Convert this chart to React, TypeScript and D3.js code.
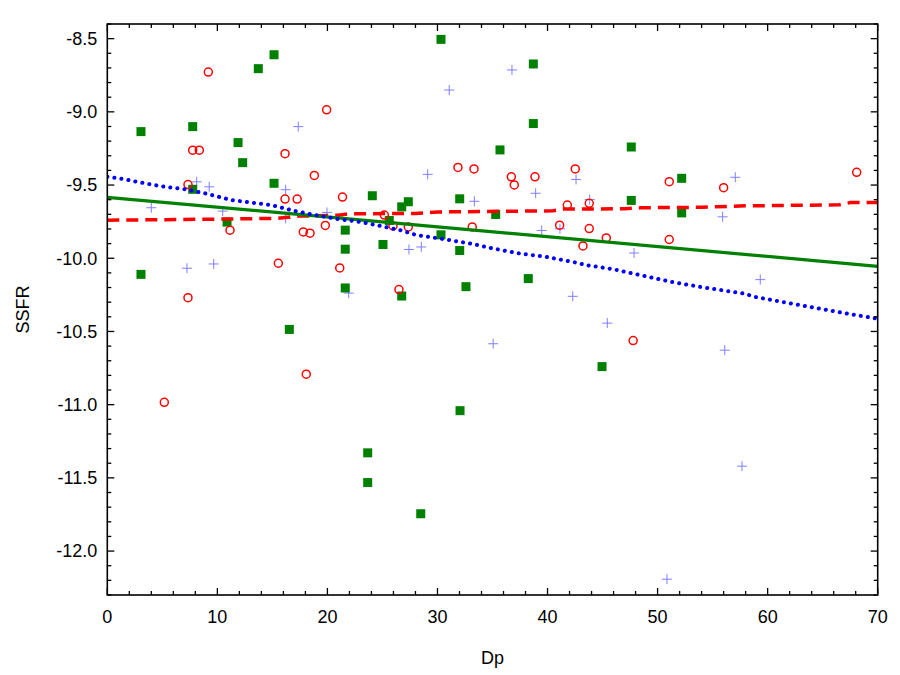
import * as d3 from 'd3'
import { useEffect, useRef } from 'react'

// green filled squares
const squareX = [3.06, 3.06, 7.76, 7.76, 10.88, 11.88, 12.3, 13.72, 15.15, 15.15, 16.54, 21.62, 21.62, 21.62, 23.66, 23.66, 24.08, 25.05, 25.62, 26.75, 26.75, 27.35, 28.48, 30.32, 30.32, 32.02, 32.02, 32.05, 32.59, 35.29, 35.68, 38.25, 38.71, 38.71, 44.95, 47.61, 47.61, 52.19, 52.19]
const squareY = [-9.135, -10.11, -9.101, -9.529, -9.753, -9.21, -9.347, -8.705, -8.61, -9.488, -10.486, -9.808, -9.938, -10.203, -11.329, -11.532, -9.573, -9.906, -9.742, -10.258, -9.649, -9.614, -11.745, -8.505, -9.84, -9.594, -9.947, -11.041, -10.194, -9.701, -9.26, -10.139, -8.673, -9.08, -10.74, -9.24, -9.605, -9.454, -9.69]

// red open circles
const circleX = [9.18, 19.93, 7.76, 8.36, 16.15, 18.81, 7.33, 16.15, 17.25, 21.37, 11.15, 17.81, 18.42, 19.81, 15.54, 21.12, 7.33, 5.18, 18.08, 31.86, 33.32, 36.71, 36.98, 38.86, 42.52, 41.8, 43.79, 25.17, 25.96, 27.35, 33.16, 41.1, 43.79, 45.34, 43.22, 26.5, 51.06, 56.0, 68.09, 51.06, 47.78]
const circleY = [-8.728, -8.986, -9.262, -9.262, -9.286, -9.434, -9.497, -9.596, -9.596, -9.582, -9.808, -9.82, -9.829, -9.776, -10.034, -10.066, -10.269, -10.984, -10.792, -9.38, -9.39, -9.444, -9.499, -9.444, -9.39, -9.637, -9.625, -9.705, -9.779, -9.786, -9.786, -9.774, -9.797, -9.861, -9.916, -10.214, -9.477, -9.518, -9.413, -9.872, -10.562]

// light blue crosses
const crossX = [17.35, 8.12, 9.26, 16.21, 4.0, 16.21, 10.49, 19.96, 7.24, 9.67, 21.93, 36.77, 31.07, 29.11, 42.59, 33.35, 38.92, 43.83, 39.47, 41.13, 27.41, 28.53, 42.29, 45.43, 35.06, 57.06, 55.91, 47.86, 59.33, 56.1, 57.67, 50.85]
const crossY = [-9.101, -9.478, -9.512, -9.532, -9.655, -9.728, -9.678, -9.687, -10.068, -10.039, -10.238, -8.714, -8.851, -9.427, -9.462, -9.611, -9.556, -9.599, -9.81, -9.799, -9.94, -9.923, -10.26, -10.443, -10.584, -9.447, -9.717, -9.964, -10.146, -10.628, -11.42, -12.192]

// fitted curves
const greenFitX = [0, 70]
const greenFitY = [-9.584, -10.055]
const redFitX = [0, 10, 15.5, 17.5, 21, 22, 28, 30, 40.5, 41.5, 47, 48.5, 54, 58, 66.5, 67.5, 70]
const redFitY = [-9.74, -9.733, -9.727, -9.712, -9.706, -9.696, -9.694, -9.684, -9.676, -9.664, -9.662, -9.655, -9.652, -9.642, -9.635, -9.62, -9.62]
const blueFitX = [0, 1.6, 3.4, 5.2, 7.1, 8.9, 10.1, 11.3, 12.5, 14.9, 17.1, 18.6, 21, 23.1, 24.8, 26.6, 28.1, 30.8, 33.3, 35.1, 37.5, 39.9, 42.3, 43.6, 46, 49.2, 51.3, 54, 57.9, 58.9, 63.1, 67.3, 70]
const blueFitY = [-9.443, -9.461, -9.488, -9.512, -9.529, -9.557, -9.58, -9.603, -9.614, -9.637, -9.678, -9.701, -9.733, -9.753, -9.779, -9.808, -9.842, -9.872, -9.904, -9.934, -9.968, -9.991, -10.025, -10.048, -10.075, -10.128, -10.162, -10.197, -10.242, -10.265, -10.322, -10.379, -10.413]

const xTicks = [0, 10, 20, 30, 40, 50, 60, 70]
const yTicks = [-8.5, -9.0, -9.5, -10.0, -10.5, -11.0, -11.5, -12.0]

export default function App() {
  const ref = useRef<SVGSVGElement>(null)

  useEffect(() => {
    const width = 900
    const height = 675
    const left = 107.3
    const right = 877.7
    const top = 24
    const bottom = 595

    const x = d3.scaleLinear().domain([0, 70]).range([left, right])
    const y = d3.scaleLinear().domain([-12.3, -8.4]).range([bottom, top])

    const svg = d3.select(ref.current)
    svg.selectAll('*').remove()
    svg.attr('width', width).attr('height', height)

    const font = 'Liberation Sans, Arial, Helvetica, sans-serif'

    // clip to plotting area
    svg
      .append('clipPath')
      .attr('id', 'plot-clip')
      .append('rect')
      .attr('x', left)
      .attr('y', top)
      .attr('width', right - left)
      .attr('height', bottom - top)

    const plot = svg.append('g').attr('clip-path', 'url(#plot-clip)')

    // crosses
    const crosses = d3.zip(crossX, crossY)
    plot
      .selectAll('path.cross')
      .data(crosses)
      .join('path')
      .attr('class', 'cross')
      .attr('d', d => {
        const cx = x(d[0])
        const cy = y(d[1])
        return `M${cx - 5},${cy}H${cx + 5}M${cx},${cy - 5}V${cy + 5}`
      })
      .attr('stroke', '#7f7fff')
      .attr('stroke-width', 1)
      .attr('fill', 'none')

    // squares
    plot
      .selectAll('rect.sq')
      .data(d3.zip(squareX, squareY))
      .join('rect')
      .attr('class', 'sq')
      .attr('x', d => x(d[0]) - 4.5)
      .attr('y', d => y(d[1]) - 4.5)
      .attr('width', 9)
      .attr('height', 9)
      .attr('fill', '#008000')

    // circles
    plot
      .selectAll('circle')
      .data(d3.zip(circleX, circleY))
      .join('circle')
      .attr('cx', d => x(d[0]))
      .attr('cy', d => y(d[1]))
      .attr('r', 4)
      .attr('fill', 'none')
      .attr('stroke', '#ff0000')
      .attr('stroke-width', 1.5)

    const line = d3
      .line<[number, number]>()
      .x(d => x(d[0]))
      .y(d => y(d[1]))

    plot
      .append('path')
      .attr('d', line(d3.zip(redFitX, redFitY) as [number, number][]))
      .attr('fill', 'none')
      .attr('stroke', '#ff0000')
      .attr('stroke-width', 3.5)
      .attr('stroke-dasharray', '12 7')

    plot
      .append('path')
      .attr('d', line(d3.zip(greenFitX, greenFitY) as [number, number][]))
      .attr('fill', 'none')
      .attr('stroke', '#008000')
      .attr('stroke-width', 3.2)

    plot
      .append('path')
      .attr('d', line(d3.zip(blueFitX, blueFitY) as [number, number][]))
      .attr('fill', 'none')
      .attr('stroke', '#0000ff')
      .attr('stroke-width', 4)
      .attr('stroke-linecap', 'round')
      .attr('stroke-dasharray', '0.1 7')

    // frame
    svg
      .append('rect')
      .attr('x', left)
      .attr('y', top)
      .attr('width', right - left)
      .attr('height', bottom - top)
      .attr('fill', 'none')
      .attr('stroke', '#000')
      .attr('stroke-width', 1.6)

    // ticks, drawn inward on all four sides
    const ticks = svg.append('g').attr('stroke', '#000').attr('stroke-width', 1.3)
    const xMinor = d3.range(0, 70.001, 2)
    const yMinor = d3.range(-12.3, -8.39, 0.1)
    xMinor.forEach(v => {
      const major = Math.abs(v % 10) < 1e-6
      const len = major ? 7 : 4
      ticks.append('line').attr('x1', x(v)).attr('x2', x(v)).attr('y1', bottom).attr('y2', bottom - len)
      ticks.append('line').attr('x1', x(v)).attr('x2', x(v)).attr('y1', top).attr('y2', top + len)
    })
    yMinor.forEach(v => {
      const r = Math.round(v * 10) / 10
      const major = Math.abs(r * 2 - Math.round(r * 2)) < 1e-6
      const len = major ? 7 : 4
      ticks.append('line').attr('x1', left).attr('x2', left + len).attr('y1', y(r)).attr('y2', y(r))
      ticks.append('line').attr('x1', right).attr('x2', right - len).attr('y1', y(r)).attr('y2', y(r))
    })

    // tick labels
    svg
      .append('g')
      .selectAll('text')
      .data(xTicks)
      .join('text')
      .attr('x', d => x(d))
      .attr('y', bottom + 28)
      .attr('text-anchor', 'middle')
      .attr('font-family', font)
      .attr('font-size', 18)
      .text(d => d3.format('d')(d))

    svg
      .append('g')
      .selectAll('text')
      .data(yTicks)
      .join('text')
      .attr('x', left - 10)
      .attr('y', d => y(d))
      .attr('dy', '0.35em')
      .attr('text-anchor', 'end')
      .attr('font-family', font)
      .attr('font-size', 18)
      .text(d => d3.format('.1f')(d).replace('−', '-'))

    // axis titles
    svg
      .append('text')
      .attr('x', (left + right) / 2)
      .attr('y', 664)
      .attr('text-anchor', 'middle')
      .attr('font-family', font)
      .attr('font-size', 18)
      .text('Dp')

    svg
      .append('text')
      .attr('transform', `translate(29,${(top + bottom) / 2}) rotate(-90)`)
      .attr('text-anchor', 'middle')
      .attr('font-family', font)
      .attr('font-size', 18)
      .text('SSFR')
  }, [])

  return (
    <div style={{ position: 'absolute', left: 0, top: 0 }}>
      <svg ref={ref} style={{ display: 'block', background: '#fff' }} />
    </div>
  )
}
